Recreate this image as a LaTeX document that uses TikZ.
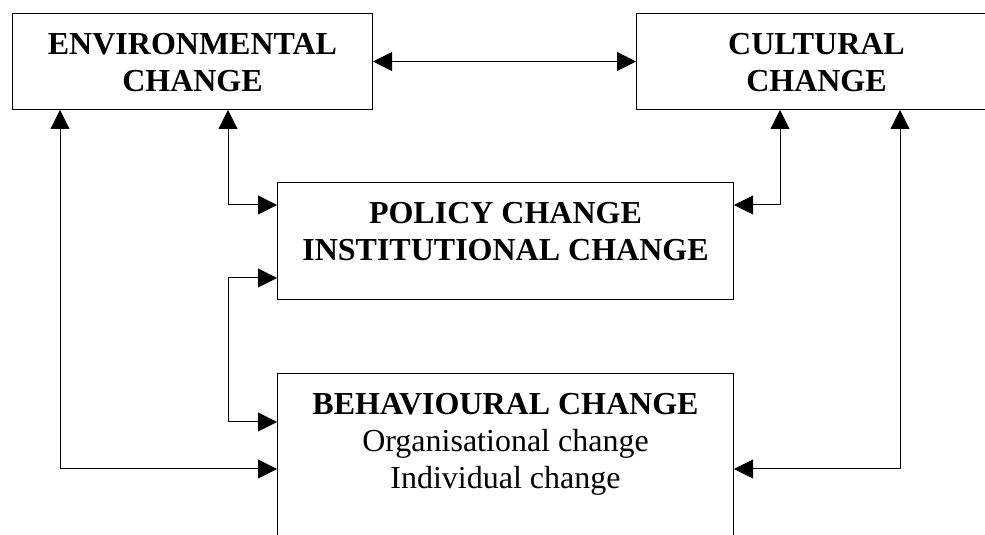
\documentclass[tikz,border=0pt]{standalone}
\usepackage{fontspec}
\setmainfont{Liberation Serif}
\usetikzlibrary{arrows.meta,positioning}

\tikzstyle{flow chart}=[
    x=1pt, y=1pt,
    box/.style={rectangle, draw=black, line width=1pt, inner sep=0pt, anchor=north west},
    box text/.style={anchor=north, align=center, inner sep=0pt, font={\fontsize{32}{37}\selectfont}},
    link/.style={black, line width=1pt, {Triangle[length=19pt,width=19pt]}-{Triangle[length=19pt,width=19pt]}},
]

\begin{document}
\begin{tikzpicture}[flow chart]
    \useasboundingbox (0,0) rectangle (985,535);
    \clip (0,0) rectangle (985,535);

    % boxes
    \node[box, minimum width=360pt, minimum height=96pt] (env) at (12,522) {};
    \node[box, minimum width=360pt, minimum height=96pt] (cult) at (636,522) {};
    \node[box, minimum width=456pt, minimum height=117pt] (pol) at (277,353) {};
    \node[box, minimum width=456pt, minimum height=200pt] (behav) at (277,162) {};

    \node[box text, below=20pt of env.north] (env title) {\bfseries ENVIRONMENTAL\\\bfseries CHANGE};
    \node[box text, below=20pt of cult.north] (cult title) {\bfseries CULTURAL\\\bfseries CHANGE};
    \node[box text, below=20pt of pol.north] (pol title) {\bfseries POLICY CHANGE\\\bfseries INSTITUTIONAL CHANGE};
    \node[box text, below=20pt of behav.north] (behav title) {\bfseries BEHAVIOURAL CHANGE\\Organisational change\\Individual change};

    % links
    \draw[link] (env.east) -- (cult.west);
    \draw[link] ([xshift=48pt]env.south west) |- ([yshift=-96pt]behav.north west);
    \draw[link] ([xshift=216pt]env.south west) |- ([yshift=-23pt]pol.north west);
    \draw[link] ([yshift=22pt]pol.south west) -- ++(-49,0) |- ([yshift=-49pt]behav.north west);
    \draw[link] ([xshift=144pt]cult.south west) |- ([yshift=-23pt]pol.north east);
    \draw[link] ([xshift=264pt]cult.south west) |- ([yshift=-96pt]behav.north east);
\end{tikzpicture}
\end{document}
